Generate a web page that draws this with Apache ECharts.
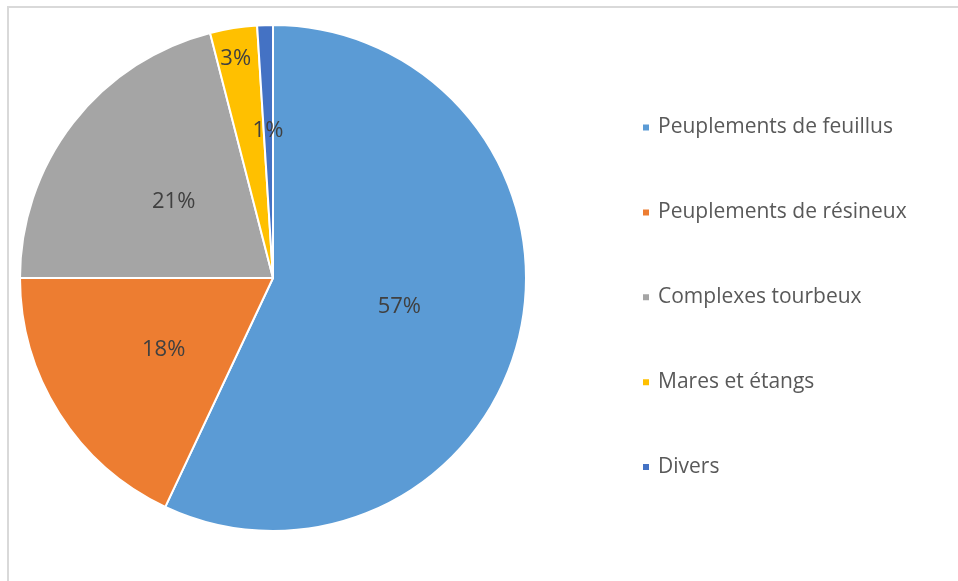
<!DOCTYPE html>
<html>
<head>
<meta charset="utf-8">
<script src="https://cdn.jsdelivr.net/npm/echarts@6/dist/echarts.min.js"></script>
<style>
  html, body { margin: 0; padding: 0; background: #fff; }
  #chart { width: 958px; height: 581px; }
</style>
</head>
<body>
<div id="chart"></div>
<script>
// Répartition des milieux (en %)
const categories = [
  'Peuplements de feuillus',
  'Peuplements de résineux',
  'Complexes tourbeux',
  'Mares et étangs',
  'Divers'
];
const values = [57, 18, 21, 3, 1];

const colors = ['#5B9BD5', '#ED7D31', '#A5A5A5', '#FFC000', '#4472C4'];
// Décalage des étiquettes (pixels) ; les petites parts ont leur étiquette repoussée vers le bord
const labelOffsets = [[0, 0], [0, 2], [3, 3], [-17, -91], [-1, -18]];

const chart = echarts.init(document.getElementById('chart'), null, { renderer: 'canvas' });

chart.setOption({
  animation: false,
  backgroundColor: '#ffffff',
  color: colors,
  graphic: [{
    type: 'rect',
    silent: true,
    shape: { x: 8, y: 7, width: 2000, height: 2000 },
    style: { fill: 'none', stroke: '#d9d9d9', lineWidth: 2 }
  }],
  legend: {
    orient: 'vertical',
    left: 636,
    top: 112,
    itemGap: 63.9,
    itemWidth: 8,
    itemHeight: 8,
    icon: 'rect',
    data: categories,
    textStyle: {
      fontFamily: 'Open Sans',
      fontSize: 21,
      color: '#595959',
      padding: [0, 0, 0, 3]
    }
  },
  series: [{
    type: 'pie',
    center: [273, 278],
    radius: 253,
    startAngle: 90,
    clockwise: true,
    label: {
      show: true,
      position: 'inside',
      formatter: '{d}%',
      fontFamily: 'Open Sans',
      fontSize: 22,
      color: '#404040'
    },
    labelLine: { show: false },
    itemStyle: { borderColor: '#ffffff', borderWidth: 2 },
    emphasis: { disabled: true },
    data: categories.map((name, i) => ({
      name,
      value: values[i],
      label: { offset: labelOffsets[i] }
    }))
  }]
});
</script>
</body>
</html>
